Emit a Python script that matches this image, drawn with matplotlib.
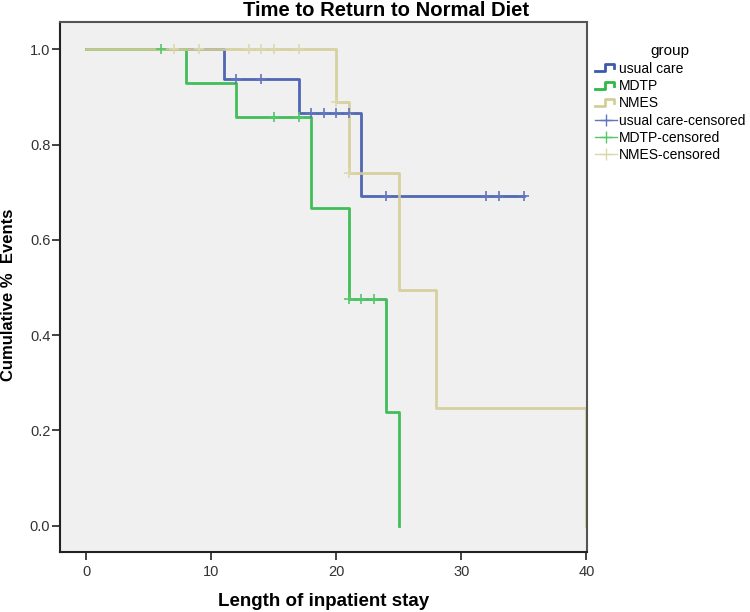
#!/usr/bin/env python3
"""Kaplan-Meier style chart: time to return to normal diet"""

import matplotlib

matplotlib.use("Agg")
import matplotlib.pyplot as plt
from matplotlib.legend_handler import HandlerBase
from matplotlib.lines import Line2D

# step curves (time, cumulative proportion)
care_t = [0, 11, 17, 22, 35]
care_s = [1.0, 0.9375, 0.866, 0.693, 0.693]
mdtp_t = [0, 8, 12, 18, 21, 24, 25]
mdtp_s = [1.0, 0.929, 0.857, 0.667, 0.476, 0.238, 0.0]
nmes_t = [0, 20, 21, 25, 28, 40]
nmes_s = [1.0, 0.889, 0.741, 0.494, 0.247, 0.0]

# censored observations
care_ct = [12, 14, 18, 19, 20, 21, 24, 32, 33, 35]
care_cs = [0.9375, 0.9375, 0.866, 0.866, 0.866, 0.866, 0.693, 0.693, 0.693, 0.693]
mdtp_ct = [6, 15, 17, 21, 22, 23]
mdtp_cs = [1.0, 0.857, 0.857, 0.476, 0.476, 0.476]
nmes_ct = [7, 9, 13, 14, 15, 17, 20, 21]
nmes_cs = [1.0, 1.0, 1.0, 1.0, 1.0, 1.0, 0.889, 0.741]

groups = ["usual care", "MDTP", "NMES"]
colors = ["#3E58AC", "#2EB848", "#D3CE97"]
cens_colors = ["#6275BD", "#55C76A", "#DCD8AE"]


class StepHandler(HandlerBase):
    """legend icon drawn as a small step"""

    def create_artists(self, legend, orig_handle, xdescent, ydescent, width, height, fontsize, trans):
        w, h = width, height
        xs = [-xdescent, 0.45 * w, 0.45 * w, 0.85 * w, 0.85 * w]
        ys = [0.15 * h, 0.15 * h, 0.85 * h, 0.85 * h, 0.45 * h]
        ln = Line2D(xs, ys, color=orig_handle.get_color(), lw=2.0, transform=trans)
        return [ln]


def main():
    fig = plt.figure(figsize=(7.5, 6.12), dpi=100)
    ax = fig.add_axes([0.08, 0.098, 0.7027, 0.866])
    ax.set_facecolor("#F0F0F0")

    curves = [(care_t, care_s), (mdtp_t, mdtp_s), (nmes_t, nmes_s)]
    cens = [(care_ct, care_cs), (mdtp_ct, mdtp_cs), (nmes_ct, nmes_cs)]
    handles = []
    for (t, s), c in zip(curves, colors):
        (h,) = ax.step(t, s, where="post", color=c, lw=2.0, alpha=0.9)
        handles.append(h)
    chandles = []
    for (t, s), c in zip(cens, cens_colors):
        ax.plot(t, s, ls="none", marker="+", ms=7.5, mew=1.2, color=c)
        chandles.append(Line2D([], [], color=c, lw=1.0, marker="+", ms=9, mew=1.0))

    ax.set_xlim(-2.1, 40.05)
    ax.set_ylim(-0.055, 1.057)
    ax.set_xticks([0, 10, 20, 30, 40])
    ax.set_yticks([0.0, 0.2, 0.4, 0.6, 0.8, 1.0])
    ax.set_yticklabels(["0.0", "0.2", "0.4", "0.6", "0.8", "1.0"])
    ax.tick_params(
        axis="both", direction="out", length=6, width=1.2, color="#222222",
        labelsize=10.5, labelcolor="#333333",
    )
    ax.tick_params(axis="x", pad=3)
    ax.tick_params(axis="y", pad=1)
    for lab in ax.get_xticklabels() + ax.get_yticklabels():
        lab.set_family("Liberation Sans")
    for side in ["left", "bottom"]:
        ax.spines[side].set_color("#222222")
        ax.spines[side].set_linewidth(1.5)
    for side in ["top", "right"]:
        ax.spines[side].set_color("#555555")
        ax.spines[side].set_linewidth(1.5)

    fig.text(0.515, 0.974, "Time to Return to Normal Diet", ha="center", va="baseline",
             fontsize=14.6, fontweight="bold", family="Liberation Sans")
    fig.text(0.431, 0.0098, "Length of inpatient stay", ha="center", va="baseline",
             fontsize=13.5, fontweight="bold", family="Liberation Sans")
    fig.text(0.012, 0.518, "Cumulative %  Events", rotation=90, ha="center", va="center",
             fontsize=12, fontweight="bold", family="Liberation Sans")

    leg = ax.legend(
        handles + chandles,
        groups + [g + "-censored" for g in groups],
        handler_map={h: StepHandler() for h in handles},
        loc="upper left", bbox_to_anchor=(0.777, 0.948), bbox_transform=fig.transFigure,
        frameon=False, title="group", handlelength=1.6, handletextpad=0.1,
        labelspacing=0.24, prop={"family": "Liberation Sans", "size": 10},
    )
    leg.get_title().set_family("Liberation Sans")
    leg.get_title().set_fontsize(11)
    leg._legend_box.align = "center"

    fig.savefig("out.png", dpi=100)


if __name__ == "__main__":
    main()
